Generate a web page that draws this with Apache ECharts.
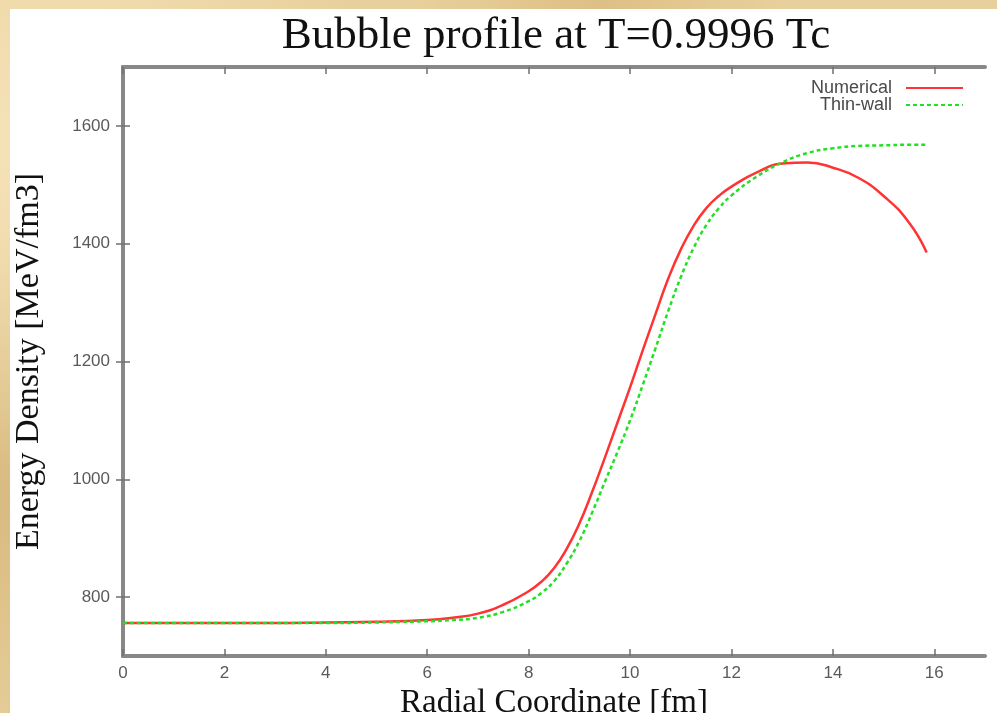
<!DOCTYPE html>
<html>
<head>
<meta charset="utf-8">
<script src="https://cdn.jsdelivr.net/npm/echarts@6/dist/echarts.min.js"></script>
<style>
  html, body {
    margin: 0;
    padding: 0;
    width: 997px;
    height: 713px;
    overflow: hidden;
    background-color: #e8d09c;
    background-image:
      radial-gradient(circle at 5% 20%, rgba(255, 240, 205, 0.6) 0, rgba(255, 240, 205, 0) 30%),
      radial-gradient(circle at 2% 70%, rgba(200, 165, 100, 0.5) 0, rgba(200, 165, 100, 0) 25%),
      radial-gradient(circle at 60% 1%, rgba(210, 175, 110, 0.5) 0, rgba(210, 175, 110, 0) 20%);
  }
  #chart {
    position: absolute;
    left: 10px;
    top: 9px;
    width: 987px;
    height: 704px;
    background: #ffffff;
  }
</style>
</head>
<body>
<div id="chart"></div>
<script>
// radial coordinate [fm]
const radius = [0, 1, 2, 3, 4, 5, 6, 6.5, 7, 7.5, 8, 8.25, 8.5, 8.75, 9, 9.25, 9.5, 9.75, 10, 10.25, 10.5, 10.75, 11, 11.25, 11.5, 11.75, 12, 12.5, 13, 13.5, 14, 14.5, 15, 15.5, 15.85]
// energy density [MeV/fm3]
const numerical = [756, 756, 756, 756, 757, 758, 761, 765, 772, 787, 810, 826, 849, 882, 925, 978, 1036, 1096, 1156, 1219, 1280, 1340, 1390, 1430, 1460, 1481, 1497, 1521, 1536, 1538, 1529, 1512, 1481, 1436, 1385]
const thinWall = [756, 756, 756, 756, 756, 757, 759, 761, 765, 775, 793, 807, 827, 857, 895, 943, 995, 1046, 1100, 1160, 1222, 1285, 1343, 1392, 1431, 1460, 1482, 1514, 1538, 1554, 1562, 1566, 1567, 1568, 1568]

const xTicks = [0, 2, 4, 6, 8, 10, 12, 14, 16]
const yTicks = [800, 1000, 1200, 1400, 1600]

const chart = echarts.init(document.getElementById('chart'))

const axisLine = { show: true, lineStyle: { color: '#888888', width: 4 } }
const tickStyle = { color: '#707070', width: 1.5 }
const labelFont = { color: '#5a5a5a', fontSize: 17, fontFamily: 'Liberation Sans, Arial, sans-serif' }
const serif = 'Liberation Serif, Times New Roman, serif'

function pairs(ys) {
  return radius.map((r, i) => [r, ys[i]])
}

const option = {
  animation: false,
  title: {
    text: 'Bubble profile at T=0.9996 Tc',
    left: 541,
    top: 0,
    textAlign: 'center',
    textStyle: { fontFamily: serif, fontSize: 45, fontWeight: 'normal', color: '#111111' },
  },
  legend: {
    orient: 'vertical',
    right: 28,
    top: 65,
    align: 'right',
    itemWidth: 57,
    itemHeight: 14,
    itemGap: -1,
    itemStyle: { opacity: 0 },
    textStyle: {
      color: '#4a4a4a',
      fontSize: 18,
      padding: [0, 9, 0, 0],
      fontFamily: 'Liberation Sans, Arial, sans-serif',
    },
    data: ['Numerical', 'Thin-wall'],
  },
  grid: {
    left: 113,
    top: 58,
    right: 12,
    bottom: 57,
    outerBoundsMode: 'none',
  },
  xAxis: [
    {
      type: 'value',
      min: 0,
      max: 17,
      name: 'Radial Coordinate [fm]',
      nameLocation: 'middle',
      nameGap: 31,
      nameTextStyle: { fontFamily: serif, fontSize: 33, color: '#111111', verticalAlign: 'top' },
      axisLine,
      axisTick: { inside: true, length: 7, lineStyle: tickStyle, customValues: xTicks },
      axisLabel: { ...labelFont, margin: 9, customValues: xTicks, formatter: v => String(v) },
      splitLine: { show: false },
    },
    {
      type: 'value',
      position: 'top',
      min: 0,
      max: 17,
      axisLine,
      axisTick: { inside: true, length: 7, lineStyle: tickStyle, customValues: xTicks },
      axisLabel: { show: false },
      splitLine: { show: false },
    },
  ],
  yAxis: [
    {
      type: 'value',
      min: 700,
      max: 1700,
      name: 'Energy Density [MeV/fm3]',
      nameLocation: 'middle',
      nameGap: 77,
      nameTextStyle: { fontFamily: serif, fontSize: 34, color: '#111111' },
      axisLine,
      axisTick: { inside: false, length: -7, lineStyle: tickStyle, customValues: yTicks },
      axisLabel: { ...labelFont, margin: 13, customValues: yTicks, formatter: v => String(v) },
      splitLine: { show: false },
    },
    {
      type: 'value',
      position: 'right',
      min: 700,
      max: 1700,
      axisLine,
      axisTick: { inside: false, length: -7, lineStyle: tickStyle, customValues: yTicks },
      axisLabel: { show: false },
      splitLine: { show: false },
    },
  ],
  series: [
    {
      name: 'Numerical',
      type: 'line',
      smooth: true,
      symbol: 'none',
      data: pairs(numerical),
      itemStyle: { color: '#ff3333' },
      lineStyle: { color: '#ff3333', width: 2.5 },
      z: 3,
    },
    {
      name: 'Thin-wall',
      type: 'line',
      smooth: true,
      symbol: 'none',
      data: pairs(thinWall),
      itemStyle: { color: '#22e022' },
      lineStyle: { color: '#22e022', width: 2.5, type: [4, 3] },
      z: 4,
    },
  ],
}

chart.setOption(option)
</script>
</body>
</html>
